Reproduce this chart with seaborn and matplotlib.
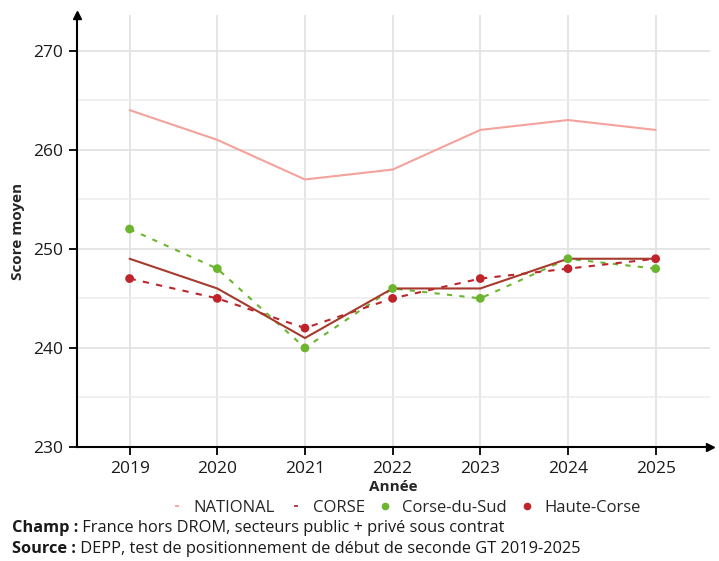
import matplotlib
matplotlib.use("Agg")
import matplotlib.pyplot as plt
from matplotlib.lines import Line2D
from matplotlib.ticker import MultipleLocator
import numpy as np
import pandas as pd
import seaborn as sns

years = [2019, 2020, 2021, 2022, 2023, 2024, 2025]
national = [264, 261, 257, 258, 262, 263, 262]
corse = [249, 246, 241, 246, 246, 249, 249]
corse_du_sud = [252, 248, 240, 246, 245, 249, 248]
haute_corse = [247, 245, 242, 245, 247, 248, 249]

series_names = ["NATIONAL", "CORSE", "Corse-du-Sud", "Haute-Corse"]
colors = {
    "NATIONAL": "#f4a29c",
    "CORSE": "#a53a2d",
    "Corse-du-Sud": "#6cb52f",
    "Haute-Corse": "#c0242b",
}

df = pd.DataFrame({
    "Année": years * 4,
    "Score": national + corse + corse_du_sud + haute_corse,
    "Série": sum([[n] * len(years) for n in series_names], []),
})

sns.set_theme(style="white")
plt.rcParams["font.family"] = ["Open Sans", "DejaVu Sans"]

fig = plt.figure(figsize=(7.19, 5.61), dpi=100)
ax = fig.add_axes([77 / 719, 1 - 447 / 561, (710 - 77) / 719, (447 - 15) / 561])

# grid
ax.set_xlim(2018.4, 2025.62)
ax.set_ylim(230, 273.6)
ax.yaxis.set_major_locator(MultipleLocator(10))
ax.yaxis.set_minor_locator(MultipleLocator(5))
ax.set_xticks(years)
ax.grid(True, which="major", axis="both", color="#e3e3e3", linewidth=1.3, zorder=0)
ax.grid(True, which="minor", axis="y", color="#ececec", linewidth=1.1, zorder=0)
ax.set_axisbelow(True)

sub = df[df["Série"] == "NATIONAL"]
sns.lineplot(data=sub, x="Année", y="Score", color=colors["NATIONAL"], lw=1.5, ax=ax, legend=False)
sub = df[df["Série"] == "Corse-du-Sud"]
sns.lineplot(data=sub, x="Année", y="Score", color=colors["Corse-du-Sud"], lw=1.5,
             ax=ax, legend=False, linestyle=(0, (2.5, 3.5)))
sub = df[df["Série"] == "Haute-Corse"]
sns.lineplot(data=sub, x="Année", y="Score", color=colors["Haute-Corse"], lw=1.5,
             ax=ax, legend=False, linestyle=(0, (3, 3.5)))
sub = df[df["Série"] == "CORSE"]
sns.lineplot(data=sub, x="Année", y="Score", color=colors["CORSE"], lw=1.5, ax=ax, legend=False)
for name in ["Corse-du-Sud", "Haute-Corse"]:
    sub = df[df["Série"] == name]
    sns.scatterplot(data=sub, x="Année", y="Score", color=colors[name], s=40,
                    edgecolor="none", ax=ax, legend=False, zorder=5)

# axes with arrows
for s in ["top", "right"]:
    ax.spines[s].set_visible(False)
for s in ["left", "bottom"]:
    ax.spines[s].set_color("black")
    ax.spines[s].set_linewidth(1.5)
ax.plot(1, 0, ">", color="black", markersize=6, transform=ax.transAxes, clip_on=False)
ax.plot(0, 1, "^", color="black", markersize=6, transform=ax.transAxes, clip_on=False)

ax.tick_params(axis="both", which="major", direction="out", length=6, width=1.3,
               color="black", labelsize=12.5, labelcolor="#1a1a1a", pad=4, bottom=True, left=True)
ax.tick_params(axis="y", which="minor", length=0)
ax.set_xticklabels([str(y) for y in years])

ax.set_ylabel("Score moyen", fontsize=11, fontweight="bold", labelpad=6)
ax.set_xlabel("Année", fontsize=11, fontweight="bold", labelpad=2)

handles = [
    Line2D([], [], linestyle="none", marker="_", markersize=3.5, markeredgewidth=1.3, color=colors["NATIONAL"]),
    Line2D([], [], linestyle="none", marker="_", markersize=3.5, markeredgewidth=1.3, color=colors["CORSE"]),
    Line2D([], [], linestyle="none", marker="o", markersize=4.5, color=colors["Corse-du-Sud"]),
    Line2D([], [], linestyle="none", marker="o", markersize=4.5, color=colors["Haute-Corse"]),
]
fig.legend(handles, series_names, loc="center", bbox_to_anchor=(405 / 719, 1 - 508 / 561),
           ncol=4, frameon=False, fontsize=12, handlelength=0.9, handletextpad=0.55,
           columnspacing=0.8, borderaxespad=0)

# footnotes with bold prefix
fig.canvas.draw()
renderer = fig.canvas.get_renderer()
notes = [
    ("Champ :", " France hors DROM, secteurs public + privé sous contrat", 1 - 528 / 561),
    ("Source :", " DEPP, test de positionnement de début de seconde GT 2019-2025", 1 - 549 / 561),
]
for bold, rest, yy in notes:
    t = fig.text(12 / 719, yy, bold, fontsize=11.8, fontweight="bold", color="#1a1a1a", va="center")
    bb = t.get_window_extent(renderer=renderer)
    fig.text(bb.x1 / fig.bbox.width, yy, rest, fontsize=11.8, color="#1a1a1a", va="center")

fig.savefig("out.png", dpi=100)
